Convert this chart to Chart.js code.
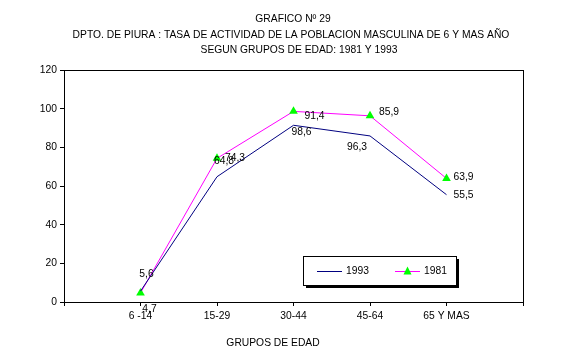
<!DOCTYPE html>
<html><head><meta charset="utf-8">
<script src="https://cdn.jsdelivr.net/npm/chart.js@4"></script>
<style>html,body{margin:0;padding:0;background:#fff}#wrap{width:586px;height:356px}</style>
</head><body><div id="wrap"><canvas id="c" width="586" height="356"></canvas></div>
<script>
const titleLines = ['GRAFICO Nº 29','DPTO. DE PIURA : TASA DE ACTIVIDAD DE LA POBLACION MASCULINA DE 6 Y MAS AÑO','SEGUN GRUPOS DE EDAD: 1981 Y 1993'];
const categories = ['6 -14','15-29','30-44','45-64','65 Y MAS'];
const values1993 = [5.6, 64.8, 91.4, 85.9, 55.5];
const values1981 = [4.7, 74.3, 98.6, 96.3, 63.9];
const yTicks = [0,20,40,60,80,100,120];
const xTitle = 'GRUPOS DE EDAD';

const FONT = '"Liberation Sans", Arial, sans-serif';
const FS = 10.3;
const toPts = arr => arr.map((v,i)=>({x:i+1,y:v}));
// label offsets (px) relative to each point
const off1993 = [[6,-17],[7,-16],[21,-9],[19,-24],[17,0]];
const off1981 = [[9,16],[18,0],[8,21],[-13,31],[17,-1]];

const deco = {
  id:'deco',
  afterDraw(chart){
    const ctx = chart.ctx, a = chart.chartArea;
    ctx.save();
    ctx.strokeStyle='#000'; ctx.lineWidth=1;
    ctx.strokeRect(Math.round(a.left)+0.5, Math.round(a.top)+0.5, Math.round(a.right-a.left), Math.round(a.bottom-a.top));
    ctx.fillStyle='#000'; ctx.font=FS+'px '+FONT; ctx.textAlign='center'; ctx.textBaseline='middle';
    ctx.fillText(titleLines[0], 293, 19);
    ctx.fillText(titleLines[1], 291, 35);
    ctx.fillText(titleLines[2], 299, 50);
    ctx.fillText(xTitle, 273, 343);
    const lab = (di, offs)=>{
      const meta = chart.getDatasetMeta(di);
      meta.data.forEach((p,i)=>{
        const v = chart.data.datasets[di].data[i].y;
        ctx.fillText(String(v).replace('.',','), p.x+offs[i][0], p.y+offs[i][1]);
      });
    };
    lab(0, off1993); lab(1, off1981);
    const lx=303, ly=256, lw=153, lh=29;
    ctx.fillStyle='#000'; ctx.fillRect(lx+3, ly+3, lw, lh);
    ctx.fillStyle='#fff'; ctx.fillRect(lx, ly, lw, lh);
    ctx.strokeStyle='#000'; ctx.strokeRect(lx+0.5, ly+0.5, lw, lh);
    const my = ly+15.5;
    ctx.strokeStyle = chart.data.datasets[0].borderColor;
    ctx.beginPath(); ctx.moveTo(317,my); ctx.lineTo(342,my); ctx.stroke();
    ctx.strokeStyle = chart.data.datasets[1].borderColor;
    ctx.beginPath(); ctx.moveTo(395,my); ctx.lineTo(420,my); ctx.stroke();
    ctx.fillStyle='#00ff00';
    ctx.beginPath(); ctx.moveTo(407.5,my-5); ctx.lineTo(411.5,my+3); ctx.lineTo(403.5,my+3); ctx.closePath(); ctx.fill();
    ctx.fillStyle='#000'; ctx.textAlign='left';
    ctx.fillText(chart.data.datasets[0].label, 346, my);
    ctx.fillText(chart.data.datasets[1].label, 424, my);
    ctx.restore();
  }
};

new Chart(document.getElementById('c'), {
  type:'line',
  data:{datasets:[
    {label:'1993', data:toPts(values1993), borderColor:'#000080', borderWidth:1, pointRadius:0, tension:0, fill:false},
    {label:'1981', data:toPts(values1981), borderColor:'#ff00ff', borderWidth:1, pointStyle:'triangle', pointRadius:5, pointBackgroundColor:'#00ff00', pointBorderColor:'#00ff00', pointBorderWidth:0, tension:0, fill:false}
  ]},
  plugins:[deco],
  options:{
    responsive:false, animation:false, devicePixelRatio:1,
    layout:{padding:{top:70,right:63,left:0,bottom:0}},
    plugins:{legend:{display:false},title:{display:false},tooltip:{enabled:false}},
    scales:{
      x:{type:'linear',min:0,max:6,
        afterFit:s=>{s.height=54;},
        afterBuildTicks:s=>{s.ticks=[0,1,2,3,4,5,6].map(v=>({value:v}));},
        ticks:{color:'#000',font:{size:FS,family:FONT},padding:4,maxRotation:0,autoSkip:false,
          callback:(v)=>categories[v-1]!==undefined?categories[v-1]:''},
        grid:{drawOnChartArea:false,tickLength:4,color:'#000'},
        border:{color:'#000',width:1}},
      y:{min:0,max:120,
        afterFit:s=>{s.width=64;},
        afterBuildTicks:s=>{s.ticks=yTicks.map(v=>({value:v}));},
        ticks:{color:'#000',font:{size:FS,family:FONT},padding:3},
        grid:{drawOnChartArea:false,tickLength:4,color:'#000'},
        border:{color:'#000',width:1}}
    }
  }
});
</script></body></html>
